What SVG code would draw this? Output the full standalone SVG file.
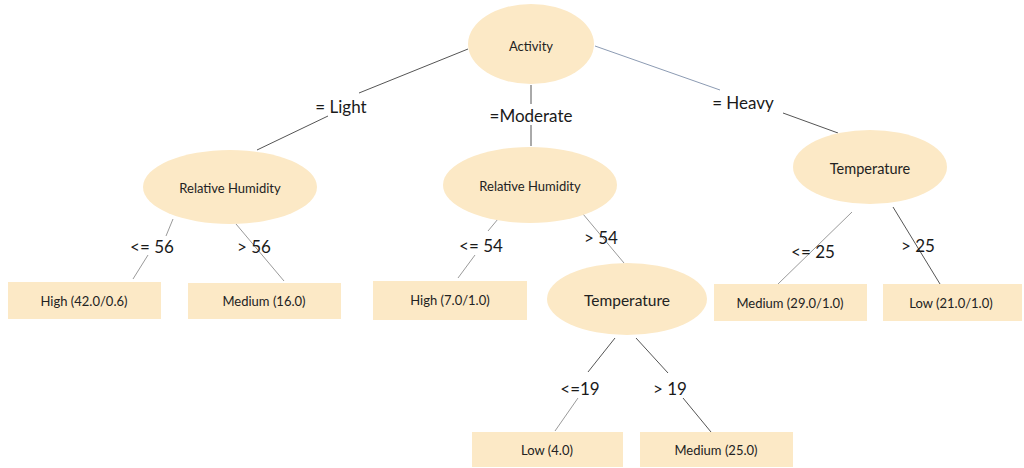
<svg xmlns="http://www.w3.org/2000/svg" width="1024" height="468" viewBox="0 0 1024 468">
  <style>
    .node { fill: #fce9c6; stroke: none; }
    .ntext { font-family: Lato, "Open Sans", sans-serif; font-size: 13px; fill: #222; text-anchor: middle; dominant-baseline: central; }
    .elabel { font-family: Lato, "Open Sans", sans-serif; font-size: 17px; fill: #1a1a1a; text-anchor: middle; dominant-baseline: central; }
    .edge { stroke: #555; stroke-width: 1; fill: none; }
    .edge-l { stroke: #9a9a9a; stroke-width: 1; fill: none; }
    .edge-b { stroke: #8c9bb3; stroke-width: 1; fill: none; }
  </style>
  <rect width="1024" height="468" fill="#ffffff"/>

  <!-- connectors -->
  <g id="connectors">
    <line class="edge" x1="468" y1="49" x2="359" y2="93"/>
    <line class="edge" x1="328" y1="116" x2="257" y2="150"/>
    <line class="edge" x1="531" y1="85" x2="531" y2="104"/>
    <line class="edge" x1="531" y1="125" x2="531" y2="146"/>
    <line class="edge-b" x1="595" y1="46" x2="720" y2="90"/>
    <line class="edge" x1="783" y1="113" x2="838" y2="133"/>

    <line class="edge-l" x1="173" y1="219" x2="166" y2="236"/>
    <line class="edge-l" x1="148" y1="255" x2="133" y2="279"/>
    <line class="edge-l" x1="236" y1="224" x2="284" y2="281"/>

    <line class="edge-l" x1="498" y1="219" x2="488" y2="231"/>
    <line class="edge-l" x1="475" y1="255" x2="458" y2="278"/>
    <line class="edge-l" x1="583" y1="214" x2="624" y2="263"/>

    <line class="edge-l" x1="852" y1="212" x2="778" y2="284"/>
    <line class="edge" x1="893" y1="207" x2="940" y2="284"/>

    <line class="edge" x1="615" y1="338" x2="588" y2="372"/>
    <line class="edge-l" x1="578" y1="398" x2="555" y2="431"/>
    <line class="edge" x1="636" y1="338" x2="668" y2="373"/>
    <line class="edge" x1="683" y1="398" x2="711" y2="432"/>
  </g>

  <!-- edge labels -->
  <g id="edge-labels">
    <text class="elabel" x="341" y="106">= Light</text>
    <text class="elabel" x="531" y="115">=Moderate</text>
    <text class="elabel" x="743" y="102">= Heavy</text>
    <text class="elabel" x="152" y="246">&lt;= 56</text>
    <text class="elabel" x="254" y="246">&gt; 56</text>
    <text class="elabel" x="481" y="245">&lt;= 54</text>
    <text class="elabel" x="601" y="237">&gt; 54</text>
    <text class="elabel" x="813" y="251">&lt;= 25</text>
    <text class="elabel" x="918" y="245">&gt; 25</text>
    <text class="elabel" x="580" y="388">&lt;=19</text>
    <text class="elabel" x="670" y="388">&gt; 19</text>
  </g>

  <g id="activity">
    <ellipse class="node" cx="531" cy="44" rx="63" ry="40"/>
    <text class="ntext" x="531" y="46">Activity</text>
  </g>
  <g id="rh-light">
    <ellipse class="node" cx="230" cy="187" rx="87" ry="37"/>
    <text class="ntext" x="230" y="188">Relative Humidity</text>
  </g>
  <g id="rh-moderate">
    <ellipse class="node" cx="530" cy="185" rx="87" ry="38"/>
    <text class="ntext" x="530" y="186">Relative Humidity</text>
  </g>
  <g id="temp-heavy">
    <ellipse class="node" cx="870" cy="167" rx="77" ry="37"/>
    <text class="ntext" x="870" y="168" style="font-size:14.5px">Temperature</text>
  </g>
  <g id="temp-moderate">
    <ellipse class="node" cx="627" cy="299" rx="80" ry="36"/>
    <text class="ntext" x="627" y="300" style="font-size:15.5px">Temperature</text>
  </g>

  <g id="leaf-high-42">
    <rect class="node" x="8" y="282" width="153" height="37"/>
    <text class="ntext" x="84" y="301">High (42.0/0.6)</text>
  </g>
  <g id="leaf-medium-16">
    <rect class="node" x="188" y="283" width="153" height="36"/>
    <text class="ntext" x="264" y="301">Medium (16.0)</text>
  </g>
  <g id="leaf-high-7">
    <rect class="node" x="373" y="281" width="154" height="39"/>
    <text class="ntext" x="450" y="300">High (7.0/1.0)</text>
  </g>
  <g id="leaf-medium-29">
    <rect class="node" x="714" y="284" width="153" height="37"/>
    <text class="ntext" x="790" y="303">Medium (29.0/1.0)</text>
  </g>
  <g id="leaf-low-21">
    <rect class="node" x="883" y="284" width="139" height="37"/>
    <text class="ntext" x="951" y="303">Low (21.0/1.0)</text>
  </g>
  <g id="leaf-low-4">
    <rect class="node" x="472" y="432" width="151" height="35"/>
    <text class="ntext" x="547" y="450">Low (4.0)</text>
  </g>
  <g id="leaf-medium-25">
    <rect class="node" x="640" y="432" width="153" height="35"/>
    <text class="ntext" x="716" y="450">Medium (25.0)</text>
  </g>
</svg>
